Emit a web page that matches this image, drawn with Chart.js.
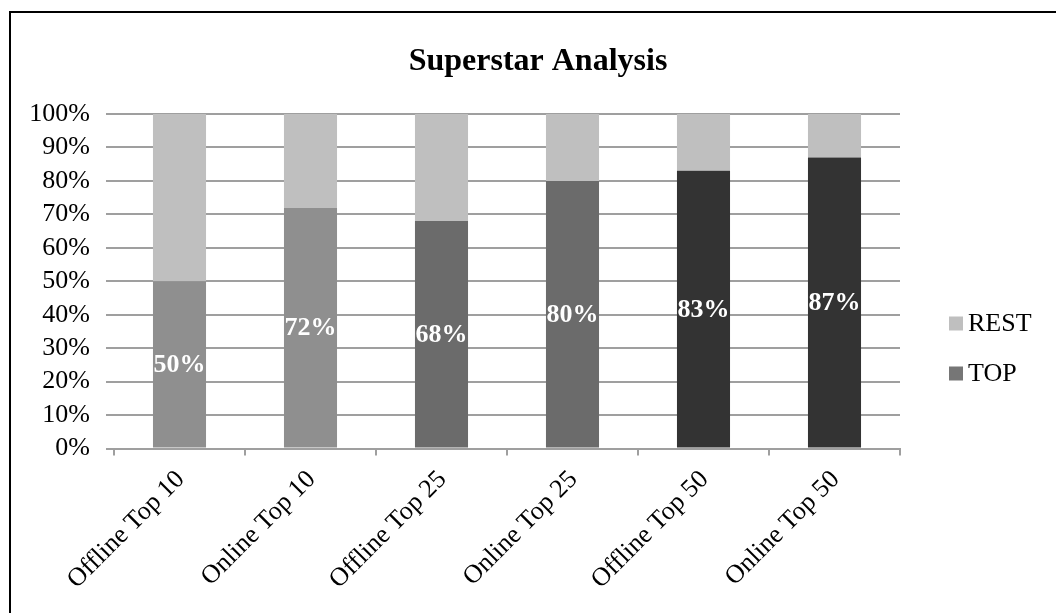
<!DOCTYPE html>
<html>
<head>
<meta charset="utf-8">
<title>Superstar Analysis</title>
<script src="https://cdn.jsdelivr.net/npm/chart.js@4/dist/chart.umd.min.js"></script>
<style>
  html, body { margin: 0; padding: 0; background: #ffffff; }
  canvas { display: block; }
</style>
</head>
<body>
<canvas id="chart" width="1056" height="613"></canvas>
<script>
// Share of sales held by the top titles vs. the rest, per list
const categories = ['Offline Top 10', 'Online Top 10', 'Offline Top 25', 'Online Top 25', 'Offline Top 50', 'Online Top 50'];
const topShare  = [50, 72, 68, 80, 83, 87];
const restShare = [50, 28, 32, 20, 17, 13];
const seriesNames = ['TOP', 'REST'];

const SERIF = '"Liberation Serif", "Times New Roman", Times, serif';
const GRID = '#9f9f9f';
const topColors = ['#8f8f8f', '#8f8f8f', '#6b6b6b', '#6b6b6b', '#333333', '#333333'];
const restColor = '#bfbfbf';
const legendColors = { TOP: '#767676', REST: restColor };

// Outer frame of the chart
const framePlugin = {
  id: 'frame',
  beforeDraw(chart) {
    const ctx = chart.ctx;
    ctx.save();
    ctx.fillStyle = '#ffffff';
    ctx.fillRect(0, 0, chart.width, chart.height);
    ctx.strokeStyle = '#000000';
    ctx.lineWidth = 2;
    ctx.beginPath();
    ctx.moveTo(10, chart.height);
    ctx.lineTo(10, 12);
    ctx.lineTo(chart.width, 12);
    ctx.stroke();
    ctx.restore();
  }
};

// White value labels in the middle of each TOP segment
const valueLabels = {
  id: 'valueLabels',
  afterDatasetsDraw(chart) {
    const ctx = chart.ctx;
    const meta = chart.getDatasetMeta(0);
    const data = chart.data.datasets[0].data;
    ctx.save();
    ctx.fillStyle = '#ffffff';
    ctx.font = 'bold 26px ' + SERIF;
    ctx.textAlign = 'center';
    ctx.textBaseline = 'middle';
    meta.data.forEach((bar, i) => {
      const p = bar.getCenterPoint();
      ctx.fillText(data[i] + '%', p.x, p.y + 1);
    });
    ctx.restore();
  }
};

// Legend on the right, REST listed above TOP
const sideLegend = {
  id: 'sideLegend',
  afterDraw(chart) {
    const ctx = chart.ctx;
    const area = chart.chartArea;
    const x = area.right + 49;
    const items = chart.data.datasets.slice().reverse();
    const midY = area.bottom - 100;
    const step = 50;
    ctx.save();
    ctx.font = '26px ' + SERIF;
    ctx.textBaseline = 'middle';
    ctx.textAlign = 'left';
    items.forEach((ds, i) => {
      const cy = midY + (i - (items.length - 1) / 2) * step;
      ctx.fillStyle = legendColors[ds.label];
      ctx.fillRect(x, cy - 7, 14, 14);
      ctx.fillStyle = '#000000';
      ctx.fillText(ds.label, x + 19, cy + 1);
    });
    ctx.restore();
  }
};

new Chart(document.getElementById('chart'), {
  type: 'bar',
  data: {
    labels: categories,
    datasets: [
      { label: seriesNames[0], data: topShare, backgroundColor: topColors,
        barPercentage: 0.405, categoryPercentage: 1.0 },
      { label: seriesNames[1], data: restShare, backgroundColor: restColor,
        barPercentage: 0.405, categoryPercentage: 1.0 }
    ]
  },
  options: {
    responsive: false,
    animation: false,
    devicePixelRatio: 1,
    layout: { padding: { left: 20, right: 0, top: 0, bottom: 0 } },
    plugins: {
      legend: { display: false },
      tooltip: { enabled: false },
      title: {
        display: true,
        text: 'Superstar Analysis',
        color: '#000000',
        font: { family: SERIF, size: 32, weight: 'bold' },
        padding: { top: 42.8, bottom: 32.8 }
      }
    },
    scales: {
      x: {
        stacked: true,
        grid: { offset: true, drawOnChartArea: false, drawTicks: true, tickLength: 7, color: GRID, lineWidth: 2 },
        border: { display: true, color: GRID, width: 2 },
        ticks: { minRotation: 45, maxRotation: 45, color: '#000000', padding: 9, labelOffset: 1,
                 autoSkip: false, font: { family: SERIF, size: 26 } },
        afterFit(scale) { scale.height = 164.5; }
      },
      y: {
        stacked: true,
        min: 0,
        max: 100,
        ticks: { stepSize: 10, autoSkip: false, padding: 16, color: '#000000',
                 font: { family: SERIF, size: 26 },
                 callback: (v) => v + '%' },
        grid: { color: GRID, lineWidth: 2, tickLength: 8 },
        border: { display: false },
        afterFit(scale) { scale.width = 94; }
      },
      legendSpace: {
        type: 'linear',
        axis: 'y',
        position: 'right',
        display: true,
        grid: { display: false },
        border: { display: false },
        ticks: { display: false },
        afterFit(scale) { scale.width = 156; }
      }
    }
  },
  plugins: [framePlugin, valueLabels, sideLegend]
});
</script>
</body>
</html>
